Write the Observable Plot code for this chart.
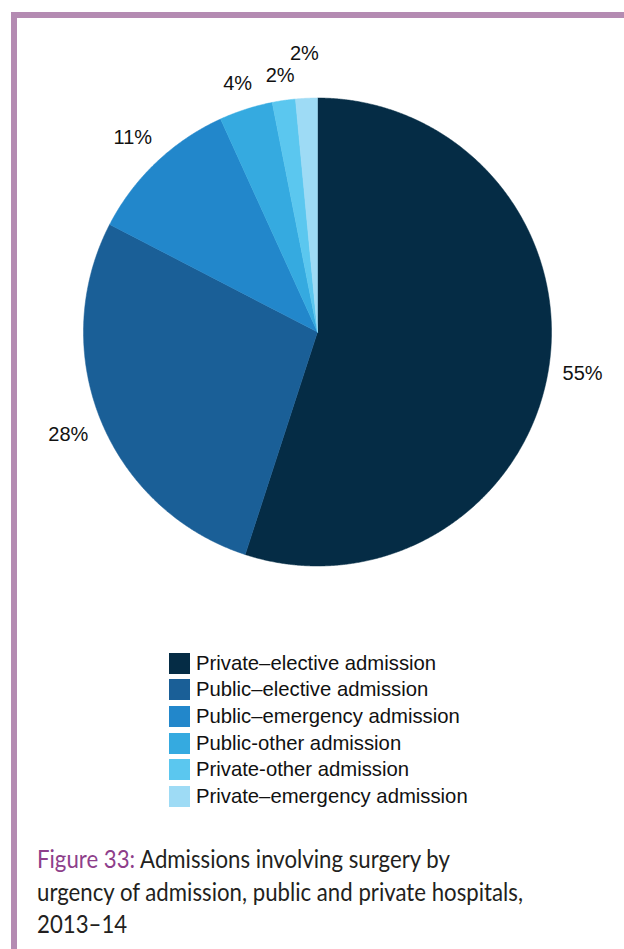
<!DOCTYPE html>
<html><head><meta charset="utf-8">
<script src="https://cdn.jsdelivr.net/npm/d3@7"></script>
<script src="https://cdn.jsdelivr.net/npm/@observablehq/plot@0.6"></script>
<style>
body{margin:0;background:#fff;}
#page{position:relative;width:624px;height:949px;overflow:hidden;background:#fff;}
#border{position:absolute;left:11px;top:12px;right:-20px;bottom:-20px;border-left:6px solid #b48bb2;border-top:6px solid #b48bb2;}
#chart{position:absolute;left:0;top:0;}
#legend{position:absolute;left:169px;top:650px;font-family:"Liberation Sans",Arial,sans-serif;font-size:20.3px;color:#111;}
.row{display:flex;align-items:center;height:26.6px;white-space:nowrap;}
.sw{width:21px;height:21px;margin-right:6px;flex:none;}
#caption{position:absolute;left:37px;top:843px;font-family:Lato,"Open Sans",sans-serif;font-size:24.5px;line-height:32.5px;color:#231f20;white-space:nowrap;transform-origin:0 0;}
#caption .ln{display:block;}
#caption .fig{color:#8e3f8b;}
</style>
</head><body>
<div id="page">
<div id="border"></div>
<div id="chart"></div>
<div id="legend"></div>
<div id="caption"><div class="ln"><span><span class="fig">Figure 33:</span> Admissions involving surgery by</span></div><div class="ln"><span id="ln2">urgency of admission, public and private hospitals,</span></div><div class="ln"><span>2013–14</span></div></div>
</div>
<script>
const categories = ["Private–elective admission","Public–elective admission","Public–emergency admission","Public-other admission","Private-other admission","Private–emergency admission"];
const shares = [55.0, 27.6, 10.6, 3.7, 1.6, 1.5];
const labels = ["55%","28%","11%","4%","2%","2%"];
const colors = ["#052c45","#1a5f97","#2287cb","#35aae0","#5bc7ef","#9edbf5"];

const W = 624, H = 620, R = 234, CX = 317, CY = 331.5;
const arcs = d3.pie().sort(null).value(d => d)(shares);

// slice polygons in radius units (y up)
const slicePts = [];
arcs.forEach((a, i) => {
  const cat = categories[i];
  slicePts.push({cat, x: 0, y: 0});
  const n = Math.max(2, Math.ceil((a.endAngle - a.startAngle) / 0.005));
  for (let k = 0; k <= n; k++) {
    const t = a.startAngle + (a.endAngle - a.startAngle) * k / n;
    slicePts.push({cat, x: Math.sin(t), y: Math.cos(t)});
  }
  slicePts.push({cat, x: 0, y: 0});
});

// label layout (outside end, pushed outward on collision)
const fs = 20, pad = 13, halfH = 10;
const placed = [];
arcs.forEach((a, i) => {
  const t = (a.startAngle + a.endAngle) / 2;
  const s = Math.sin(t), c = Math.cos(t);
  const digits = labels[i].length - 1;
  const halfW = (digits * 0.556 + 0.889) * fs / 2;
  let dist = R + pad + Math.abs(s) * halfW + Math.abs(c) * halfH;
  const box = d => ({x: CX + d * s, y: CY - d * c});
  let p = box(dist);
  const hit = q => placed.some(o => Math.abs(o.px - q.x) < o.hw + halfW + 2 && Math.abs(o.py - q.y) < 2 * halfH + 2);
  let guard = 0;
  while (hit(p) && guard++ < 200) { dist += 1; p = box(dist); }
  placed.push({px: p.x, py: p.y, hw: halfW, text: labels[i], x: (p.x - CX) / R, y: (CY - p.y) / R});
});

const chart = Plot.plot({
  width: W, height: H,
  margin: 0,
  style: {background: "transparent", overflow: "visible"},
  x: {domain: [-CX / R, (W - CX) / R], range: [0, W], axis: null},
  y: {domain: [-(H - CY) / R, CY / R], range: [H, 0], axis: null},
  color: {type: "ordinal", domain: categories, range: colors},
  marks: [
    Plot.line(slicePts, {x: "x", y: "y", z: "cat", fill: "cat", stroke: "cat", strokeWidth: 0.5, curve: "linear"}),
    Plot.text(placed, {x: "x", y: "y", text: "text", fontSize: fs, fontFamily: "Liberation Sans, Arial, sans-serif", fill: "#111", textAnchor: "middle", lineAnchor: "middle"})
  ]
});
document.getElementById("chart").appendChild(chart);

const legend = document.getElementById("legend");
categories.forEach((c, i) => {
  const row = document.createElement("div");
  row.className = "row";
  const sw = document.createElement("div");
  sw.className = "sw";
  sw.style.background = colors[i];
  const tx = document.createElement("span");
  tx.textContent = c;
  row.appendChild(sw); row.appendChild(tx);
  legend.appendChild(row);
});

// fit caption: second line spans about 486px in the reference
const cap = document.getElementById("caption");
const w2 = document.getElementById("ln2").getBoundingClientRect().width;
if (w2 > 0) cap.style.transform = `scaleX(${486 / w2})`;
</script>
</body></html>
